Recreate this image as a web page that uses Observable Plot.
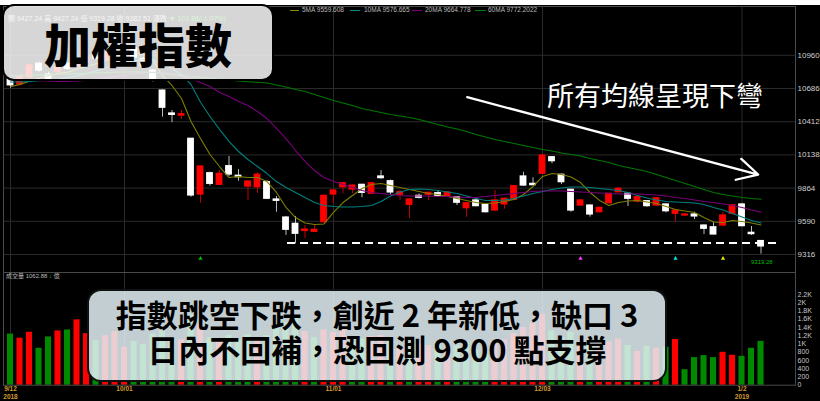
<!DOCTYPE html>
<html>
<head>
<meta charset="utf-8">
<script src="https://cdn.jsdelivr.net/npm/d3@7"></script>
<script src="https://cdn.jsdelivr.net/npm/@observablehq/plot@0.6"></script>
<style>
html,body{margin:0;padding:0;background:#fff;}
#wrap{position:relative;width:820px;height:401px;overflow:hidden;background:#000;font-family:"Noto Sans CJK TC","Noto Sans",sans-serif;}
#price{position:absolute;left:0;top:0;}
#vol{position:absolute;left:0;top:272px;}
#strip{position:absolute;left:0;top:0;width:820px;height:5px;background:#fff;}
.lg{position:absolute;font:6.5px "Liberation Sans",sans-serif;color:#bbb;white-space:nowrap;line-height:1;}
.sw{position:absolute;height:1px;}
#ohlc{position:absolute;left:8px;top:15px;font:7px "Liberation Sans","Noto Sans CJK TC",sans-serif;color:#ccc;white-space:nowrap;line-height:1;}
#ohlc b{font-weight:normal;color:#0c0;}
#vlab{position:absolute;left:6px;top:273px;font:6px "Liberation Sans","Noto Sans CJK TC",sans-serif;color:#bbb;white-space:nowrap;line-height:1;}
#lowlab{position:absolute;left:751px;top:259px;font:6px "Liberation Sans",sans-serif;color:#0b0;white-space:nowrap;line-height:1;}
#title{position:absolute;left:2px;top:4px;width:272px;height:77px;box-sizing:border-box;border:2.5px solid #000;border-radius:12px;background:rgba(255,255,255,0.84);display:flex;align-items:center;justify-content:center;font-family:"Noto Sans CJK TC",sans-serif;font-weight:900;font-size:47px;line-height:1;color:#000;}
#note{position:absolute;left:87px;top:289px;width:580px;height:93px;box-sizing:border-box;border:2px solid #111;border-radius:14px;background:rgba(232,246,250,0.84);}
#note div{position:absolute;left:0;right:0;text-align:center;font-family:"Noto Sans CJK TC",sans-serif;font-weight:700;font-size:31px;line-height:1;color:#000;white-space:nowrap;}
#atext{position:absolute;left:547px;top:81px;font-family:"Noto Sans CJK TC",sans-serif;font-weight:400;font-size:27px;line-height:1;color:#fff;white-space:nowrap;}
</style>
</head>
<body>
<div id="wrap">
  <div id="price"></div>
  <div id="vol"></div>
  <div id="strip"></div>
  <div class="sw" style="left:290px;top:10px;width:9px;background:#8a8a00"></div>
  <div class="lg" style="left:302px;top:7px">5MA 9559.608</div>
  <div class="sw" style="left:350px;top:10px;width:10px;background:#008b8b"></div>
  <div class="lg" style="left:364px;top:7px">10MA 9576.665</div>
  <div class="sw" style="left:412px;top:10px;width:10px;background:#800080"></div>
  <div class="lg" style="left:425px;top:7px">20MA 9664.778</div>
  <div class="sw" style="left:475px;top:10px;width:11px;background:#008000"></div>
  <div class="lg" style="left:488px;top:7px">60MA 9772.2022</div>
  <div id="ohlc">開 9427.24 高 9427.24 低 9319.28 收 9382.51 漲跌 <b>▼ 101.88(-1.07%)</b></div>
  <div id="vlab">成交量 1062.88 <span style="color:#0c0">↓</span> 億</div>
  <div id="lowlab">9319.28</div>
  <div id="atext">所有均線呈現下彎</div>
  <div id="title">加權指數</div>
  <div id="note">
    <div style="top:7px">指數跳空下跌，創近 2 年新低，缺口 3</div>
    <div style="top:42px">日內不回補，恐回測 9300 點支撐</div>
  </div>
</div>
<script>
// ---- data ----
const dates = ["9/12","9/13","9/14","9/17","9/18","9/19","9/20","9/21","9/25","9/26","9/27","9/28",
"10/01","10/02","10/03","10/04","10/05","10/08","10/09","10/11","10/12","10/15","10/16","10/17","10/18","10/19","10/22","10/23","10/24","10/25","10/26","10/29","10/30","10/31",
"11/01","11/02","11/05","11/06","11/07","11/08","11/09","11/12","11/13","11/14","11/15","11/16","11/19","11/20","11/21","11/22","11/23","11/26","11/27","11/28","11/29","11/30",
"12/03","12/04","12/05","12/06","12/07","12/10","12/11","12/12","12/13","12/14","12/17","12/18","12/19","12/20","12/21","12/22","12/24","12/25","12/26","12/27","12/28",
"1/2","1/3","1/4"];
const open  = [10760,10720,10777,10890,10801,10821,10890,10862,10900,10950,10925,10970,11010,11016,10930,10834,10669,10480,10462,10271,9811,9987,9891,10045,9966,9877,9871,9913,9770,9621,9569,9510,9503,9583,9811,9871,9852,9891,9817,9960,9921,9809,9726,9800,9809,9822,9795,9789,9698,9762,9726,9679,9729,9767,9960,9899,9982,10119,9974,9850,9720,9720,9665,9739,9830,9817,9753,9756,9720,9729,9652,9638,9646,9555,9541,9555,9652,9729,9495,9427.24];
const high  = [10775,10800,10895,10905,10820,10875,10900,10930,10960,10975,10990,11025,11065,11030,10945,10845,10675,10505,10505,10275,10046,9995,10009,10125,10017,9925,9990,9925,9795,9630,9630,9555,9555,9805,9850,9910,9890,9895,9910,10009,9930,9844,9775,9815,9830,9844,9835,9795,9745,9786,9730,9844,9780,9885,9995,9949,10140,10125,9980,9855,9770,9725,9706,9822,9870,9822,9800,9760,9785,9733,9684,9652,9665,9560,9583,9665,9727,9735,9547,9427.24];
const low   = [10686,10705,10765,10820,10750,10810,10835,10850,10885,10915,10910,10955,11000,10930,10850,10740,10449,10403,10430,9789,9739,9880,9885,9960,9921,9762,9822,9770,9665,9473,9404,9446,9498,9578,9739,9817,9819,9784,9810,9937,9810,9762,9611,9775,9762,9790,9790,9720,9624,9710,9660,9670,9690,9760,9880,9885,9978,10065,9894,9665,9715,9624,9660,9735,9825,9712,9740,9707,9715,9660,9583,9630,9605,9481,9478,9550,9640,9545,9473,9319.28];
const close = [10712,10790,10876,10834,10766,10862,10849,10917,10945,10930,10975,11010,11050,10942,10870,10752,10527,10468,10474,9803,10042,9899,9982,9976,9954,9918,9974,9776,9759,9520,9487,9522,9520,9800,9844,9904,9885,9825,9904,9946,9828,9830,9770,9784,9825,9800,9828,9743,9739,9715,9665,9762,9776,9880,9885,9888,10133,10086,9913,9679,9762,9646,9701,9817,9858,9776,9789,9715,9780,9673,9679,9646,9630,9528,9481,9638,9721,9550,9484,9382.51];
const volume = [1240,1140,1285,895,1170,1315,1340,1585,1250,1080,1200,1300,920,1060,990,1240,1330,1150,1100,1700,1480,1150,1100,1210,1080,1230,1120,1200,1380,1520,1640,1300,1150,1340,1280,1360,1050,1120,1180,1200,1080,920,1000,980,960,1020,880,950,1030,860,830,1020,1100,1250,1400,1500,1720,1320,1150,1280,1000,980,900,1050,1120,960,820,940,900,920,1108,376,669,717,669,798,725,700,895,1062.88];
const ma5  = [10700,10720,10745,10770,10790,10810,10820,10845,10870,10890,10915,10945,10975,10985,10965,10920,10790,10711,10603,10414,10273,10141,10042,9951,9960,9951,9951,9918,9828,9704,9621,9576,9564,9568,9663,9745,9803,9861,9894,9902,9885,9869,9852,9836,9819,9811,9795,9778,9762,9745,9737,9741,9753,9770,9811,9877,9960,9985,9976,9956,9910,9828,9762,9720,9745,9758,9762,9749,9737,9712,9687,9675,9663,9621,9584,9580,9597,9588,9576,9559.608];
const ma10 = [10740,10740,10745,10750,10755,10765,10775,10790,10810,10830,10855,10880,10900,10915,10925,10920,10890,10850,10800,10719,10573,10455,10348,10249,10166,10100,10042,9984,9918,9869,9828,9786,9745,9720,9712,9708,9708,9712,9720,9753,9799,9832,9852,9857,9852,9844,9832,9819,9799,9778,9762,9762,9766,9778,9799,9819,9836,9852,9865,9873,9873,9869,9861,9852,9844,9828,9803,9782,9766,9753,9749,9745,9741,9729,9704,9683,9654,9625,9597,9576.665];
const ma20 = [10770,10760,10755,10750,10748,10745,10745,10748,10752,10760,10770,10782,10795,10805,10815,10820,10815,10805,10790,10765,10735,10702,10653,10620,10579,10546,10496,10438,10356,10273,10174,10084,10009,9951,9918,9894,9869,9844,9828,9819,9811,9803,9799,9799,9799,9795,9795,9791,9786,9786,9795,9803,9811,9819,9828,9836,9840,9840,9840,9836,9832,9828,9824,9819,9815,9815,9815,9811,9807,9799,9786,9778,9766,9753,9745,9733,9720,9704,9683,9664.778];
const ma60 = [10790,10792,10795,10798,10800,10803,10806,10809,10812,10815,10818,10820,10822,10823,10822,10818,10810,10802,10795,10785,10778,10770,10762,10755,10748,10742,10737,10731,10715,10698,10678,10661,10636,10612,10587,10566,10546,10521,10504,10488,10471,10459,10447,10430,10409,10389,10368,10352,10331,10306,10286,10265,10249,10232,10216,10199,10183,10170,10154,10141,10129,10108,10092,10075,10051,10034,10018,10001,9976,9951,9927,9902,9877,9852,9828,9811,9799,9786,9778,9772.2022];

const priceTicks = [9316,9590,9864,10138,10412,10686,10960];
const volTicks = [0,200,400,600,800,1000,1200,1400,1600,1800,2000,2200];
const volTickText = ["0","200","400","600","800","1K","1.2K","1.4K","1.6K","1.8K","2K","2.2K"];
const axisDates = ["9/12","10/01","11/01","12/03","1/2"];
const axisText  = ["9/12\n2018","10/01","11/01","12/03","1/2\n2019"];
const gapLevel = 9410, gapFrom = 29.16, gapTo = 81.05;          // dashed gap line (index units)
const arrowFrom = {i: 48.07, v: 10614}, arrowTo = {i: 78.7, v: 9976};
const signalLevel = 9283;
const signalDates = ["10/12","12/07","12/21","12/27"];
const signalColors = ["#00c000","#ff33ff","#00e5e5","#e5e500"];
const maDefs = [["5MA", ma5, "#7f7f00"], ["10MA", ma10, "#007f7f"], ["20MA", ma20, "#7a007a"], ["60MA", ma60, "#007800"]];

// ---- derived tables ----
const days = dates.map((d, i) => ({
  i, date: d, o: open[i], h: high[i], l: low[i], c: close[i], v: volume[i],
  up: close[i] >= open[i],
  volUp: i > 0 && close[i] >= close[i - 1]
}));
const tickIdx = axisDates.map(d => dates.indexOf(d));
const tickLabel = new Map(tickIdx.map((t, k) => [t, axisText[k]]));
const volLabel = new Map(volTicks.map((t, k) => [t, volTickText[k]]));
const maRows = maDefs.flatMap(([name, arr, col]) => arr.map((v, i) => ({name, i, v, col})));
const signals = signalDates.map((d, k) => ({i: dates.indexOf(d), v: signalLevel, col: signalColors[k]}));

const xDomain = [-0.737, 82.63];
const gridColor = "#2a2a2a";

const price = Plot.plot({
  width: 820, height: 272,
  marginLeft: 3, marginRight: 25, marginTop: 6, marginBottom: 0,
  x: {domain: xDomain, axis: null},
  y: {domain: [9167.4, 11362.7], axis: null},
  style: {background: "#000", fontFamily: "Liberation Sans, sans-serif", overflow: "visible"},
  marks: [
    Plot.gridY(priceTicks, {stroke: gridColor, strokeOpacity: 1}),
    Plot.gridX(tickIdx, {stroke: gridColor, strokeOpacity: 1}),
    Plot.ruleX(days, {x: "i", y1: "l", y2: "h", stroke: d => d.up ? "#c00000" : "#b8b8b8", strokeWidth: 1}),
    Plot.rectY(days, {x1: d => d.i - 0.36, x2: d => d.i + 0.36, y1: "o", y2: "c",
      fill: d => d.up ? "#ff0000" : "#ffffff", insetTop: -0.6, insetBottom: -0.6}),
    Plot.line(maRows, {x: "i", y: "v", z: "name", stroke: "col", strokeWidth: 1.1}),
    Plot.ruleY([gapLevel], {x1: gapFrom, x2: gapTo, stroke: "#fff", strokeWidth: 2, strokeDasharray: "8,5"}),
    Plot.arrow([{x1: arrowFrom.i, y1: arrowFrom.v, x2: arrowTo.i, y2: arrowTo.v}],
      {x1: "x1", y1: "y1", x2: "x2", y2: "y2", stroke: "#fff", strokeWidth: 2.3, headLength: 15, headAngle: 56}),
    Plot.dot(signals, {x: "i", y: "v", fill: "col", symbol: "triangle", r: 1.6}),
    Plot.frame({stroke: "#4a4a4a"}),
    Plot.axisY(priceTicks, {anchor: "right", tickSize: 0, tickPadding: 2, fontSize: 8, fill: "#d0d0d0",
      fontFamily: "Liberation Sans, sans-serif", label: null, tickFormat: d => String(d)})
  ]
});
document.getElementById("price").appendChild(price);

const vol = Plot.plot({
  width: 820, height: 129,
  marginLeft: 3, marginRight: 25, marginTop: 0, marginBottom: 16.3,
  x: {domain: xDomain, axis: null},
  y: {domain: [0, 2733], axis: null},
  style: {background: "#000", fontFamily: "Liberation Sans, sans-serif", overflow: "visible"},
  marks: [
    Plot.gridX(tickIdx, {stroke: gridColor, strokeOpacity: 1}),
    Plot.rectY(days, {x1: d => d.i - 0.32, x2: d => d.i + 0.32, y1: 0, y2: "v",
      fill: d => d.volUp ? "#ff0000" : "#008a00"}),
    Plot.frame({stroke: "#4a4a4a"}),
    Plot.axisY(volTicks, {anchor: "right", tickSize: 0, tickPadding: 2, fontSize: 7, fill: "#c8c8c8",
      fontFamily: "Liberation Sans, sans-serif", label: null, tickFormat: d => volLabel.get(d)}),
    Plot.axisX(tickIdx, {anchor: "bottom", tickSize: 0, tickPadding: 0.5, fontSize: 6.5, fontWeight: "bold",
      fill: "#d09a30", lineHeight: 1.2, fontFamily: "Liberation Sans, sans-serif", label: null,
      tickFormat: d => tickLabel.get(d)})
  ]
});
document.getElementById("vol").appendChild(vol);
</script>
</body>
</html>
